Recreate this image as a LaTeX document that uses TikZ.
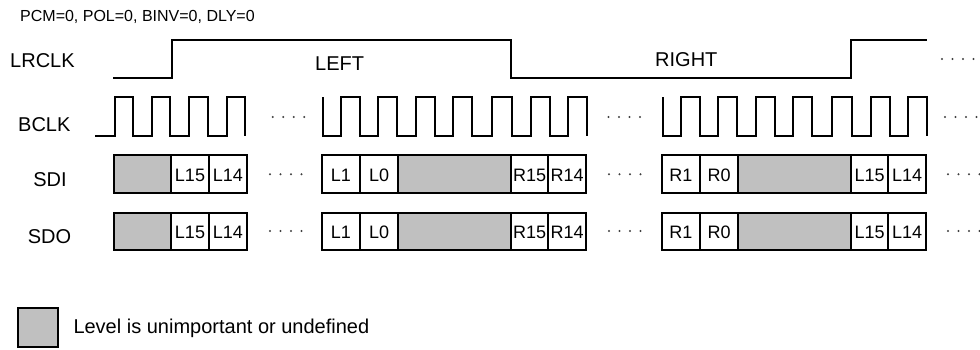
\documentclass[tikz,border=0pt]{standalone}
\usepackage{fontspec}
\setmainfont{Liberation Sans}
\definecolor{undef}{RGB}{192,192,192}
\begin{document}
\begin{tikzpicture}[x=1pt,y=-1pt,line join=miter,
  wave/.style={line width=1.8pt},
  cellbox/.style={draw,line width=1.8pt},
  lbl/.style={inner sep=0pt,font=\fontsize{20}{24}\selectfont},
  small/.style={inner sep=0pt,font=\fontsize{16}{19}\selectfont},
  bit/.style={inner sep=0pt,font=\fontsize{18}{21}\selectfont},
  dotmark/.style={fill=black!75}
]
\useasboundingbox (0,0) rectangle (980,349);

% header
\node[small,anchor=base west] (mode) at (20,21) {PCM=0, POL=0, BINV=0, DLY=0};

% signal names
\node[lbl,anchor=base west] (lrclk) at (10,67.2) {LRCLK};
\node[lbl,anchor=base west] (bclk) at (18,131) {BCLK};
\node[lbl,anchor=base] (sdi) at (50,186) {SDI};
\node[lbl,anchor=base] (sdo) at (49.5,243) {SDO};
\node[lbl,anchor=base west] (left) at (315,70.5) {LEFT};
\node[lbl,anchor=base west] (right) at (655,66.2) {RIGHT};

% LRCLK
\draw[wave] (113,78) -- (172,78) -- (172,40) -- (511,40) -- (511,78) -- (851,78) -- (851,40) -- (927,40);

% BCLK group 1
\draw[wave] (95,136) -- (115,136) -- (115,97) -- (133.3,97) -- (133.3,136) -- (151.7,136) -- (151.7,97) -- (170,97) -- (170,136) -- (189.3,136) -- (189.3,97) -- (207.7,97) -- (207.7,136) -- (226.7,136) -- (226.7,97) -- (245,97) -- (245,136);
% BCLK groups 2 and 3
\foreach \s in {0,340}{
\begin{scope}[xshift=\s pt]
\draw[wave] (322.7,97) -- (322.7,136) -- (340.7,136) -- (340.7,97) -- (360,97) -- (360,136) -- (378.3,136) -- (378.3,97) -- (397.3,97) -- (397.3,136) -- (416,136) -- (416,97) -- (435,97) -- (435,136) -- (453.3,136) -- (453.3,97) -- (472.3,97) -- (472.3,136) -- (492,136) -- (492,97) -- (512.3,97) -- (512.3,136) -- (530.7,136) -- (530.7,97) -- (550,97) -- (550,136) -- (568.3,136) -- (568.3,97) -- (587.3,97) -- (587.3,136);
\end{scope}}

% dots
\foreach \x/\y in {942/59, 272.7/117, 608.5/117, 945/117, 270/174.3, 609/174.3, 948/174.3, 270/231, 609/231, 948/231}{
  \foreach \k in {0,...,3}{
    \fill[dotmark] (\x+10.5*\k,\y) circle (1.1);
  }
}

% data rows
\foreach \ya/\yb/\r in {155/193.3/di, 212.7/250/do}{
  \foreach \xa/\xb in {114/171, 398.3/511, 738.3/851}{
    \draw[cellbox,fill=undef] (\xa,\ya) rectangle (\xb,\yb);
  }
  \foreach \xa/\xb/\t [count=\i] in {171/209/L15, 209/246.7/L14, 321.7/360/L1, 360/398.3/L0, 511/548.3/R15, 548.3/586/R14, 661.7/700/R1, 700/738.3/R0, 851/888.3/L15, 888.3/926/L14}{
    \draw[cellbox,fill=white] (\xa,\ya) rectangle (\xb,\yb);
    \node[bit] (\r-\i) at ({(\xa+\xb)/2},{(\ya+\yb)/2+1}) {\t};
  }
}

% legend
\draw[cellbox,fill=undef] (18.3,308.3) rectangle (58.3,346.7);
\node[lbl,anchor=base west] (legend) at (73.3,333.2) {Level is unimportant or undefined};
\end{tikzpicture}
\end{document}
